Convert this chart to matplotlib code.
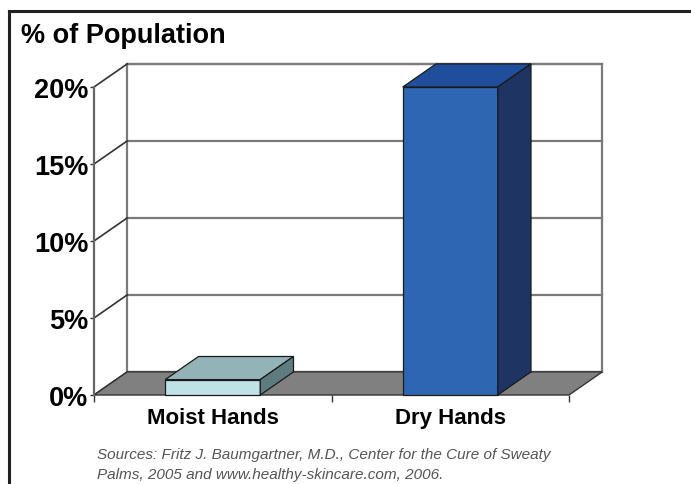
import matplotlib
matplotlib.use("Agg")
import matplotlib.pyplot as plt
from matplotlib.patches import Polygon, Rectangle
from matplotlib.lines import Line2D
from matplotlib.ticker import FuncFormatter

plt.rcParams['font.family'] = ['Liberation Sans', 'DejaVu Sans']

categories = ["Moist Hands", "Dry Hands"]
values = [1.0, 20.0]
y_ticks = [0, 5, 10, 15, 20]
title = "% of Population"
source = ("Sources: Fritz J. Baumgartner, M.D., Center for the Cure of Sweaty\n"
          "Palms, 2005 and www.healthy-skincare.com, 2006.")

front_colors = ["#bfe2e6", "#2f66b4"]
top_colors = ["#93b3b7", "#1f4f9c"]
side_colors = ["#5e7c80", "#1e3564"]

# depth of the pseudo-3d box, in data units
DX = 0.14
DY = 1.5
BAR_W = 0.4

fig = plt.figure(figsize=(6.91, 4.85), dpi=100)
ax = fig.add_axes([94 / 691, 89 / 485, 475 / 691, 308 / 485])
ax.set_xlim(0, len(categories))
ax.set_ylim(0, y_ticks[-1])
ax.patch.set_visible(False)

grid_c = "#7a7a7a"
edge_c = "#1a1a1a"

# back wall
ax.add_patch(Rectangle((DX, DY), len(categories), y_ticks[-1], facecolor="white",
                       edgecolor=grid_c, lw=1.6, clip_on=False, zorder=1))
for t in y_ticks:
    ax.add_line(Line2D([DX, len(categories) + DX], [t + DY, t + DY], color=grid_c,
                       lw=1.6, clip_on=False, zorder=2))
    ax.add_line(Line2D([0, DX], [t, t + DY], color="#333333", lw=1.2,
                       clip_on=False, zorder=2))

# floor
n = len(categories)
ax.add_patch(Polygon([(0, 0), (n, 0), (n + DX, DY), (DX, DY)], closed=True,
                     facecolor="#808080", edgecolor="#333333", lw=1.0,
                     clip_on=False, zorder=3))

# bars
for i, v in enumerate(values):
    x0 = i + 0.5 - BAR_W / 2
    x1 = i + 0.5 + BAR_W / 2
    ax.add_patch(Polygon([(x0, 0), (x1, 0), (x1, v), (x0, v)], closed=True,
                         facecolor=front_colors[i], edgecolor=edge_c, lw=0.9,
                         clip_on=False, zorder=5))
    ax.add_patch(Polygon([(x0, v), (x1, v), (x1 + DX, v + DY), (x0 + DX, v + DY)],
                         closed=True, facecolor=top_colors[i], edgecolor=edge_c,
                         lw=0.9, clip_on=False, zorder=5))
    ax.add_patch(Polygon([(x1, 0), (x1 + DX, DY), (x1 + DX, v + DY), (x1, v)],
                         closed=True, facecolor=side_colors[i], edgecolor=edge_c,
                         lw=0.9, clip_on=False, zorder=5))

# axes
for s in ["top", "right", "bottom"]:
    ax.spines[s].set_visible(False)
ax.spines["left"].set_color("#666666")
ax.spines["left"].set_linewidth(1.6)
ax.spines["left"].set_zorder(4)

ax.set_yticks(y_ticks)
ax.yaxis.set_major_formatter(FuncFormatter(lambda v, p: f"{int(v)}%"))
ax.tick_params(axis="y", length=3, width=1, color="#333333", pad=1,
               labelsize=19.5)
for lab in ax.get_yticklabels():
    lab.set_fontweight("bold")

ax.set_xticks([i + 0.5 for i in range(n)])
ax.set_xticklabels(categories, fontsize=16, fontweight="bold")
ax.tick_params(axis="x", length=0, pad=9)
ax.set_xticks(list(range(n + 1)), minor=True)
ax.tick_params(axis="x", which="minor", length=5, width=1, color="#333333")

fig.text(21 / 691, 1 - 23 / 485, title, fontsize=19.5, fontweight="bold",
         ha="left", va="top")
fig.text(97 / 691, 1 - 448 / 485, source, fontsize=11, style="italic",
         color="#555555", ha="left", va="top", linespacing=1.5)

# outer frame (top and left edges visible)
fig.add_artist(Line2D([9 / 691, 1], [1 - 12 / 485, 1 - 12 / 485],
                      transform=fig.transFigure, color="#222222", lw=2.2))
fig.add_artist(Line2D([9 / 691, 9 / 691], [0, 1 - 12 / 485],
                      transform=fig.transFigure, color="#222222", lw=2.2))

fig.savefig("out.png", dpi=100)
